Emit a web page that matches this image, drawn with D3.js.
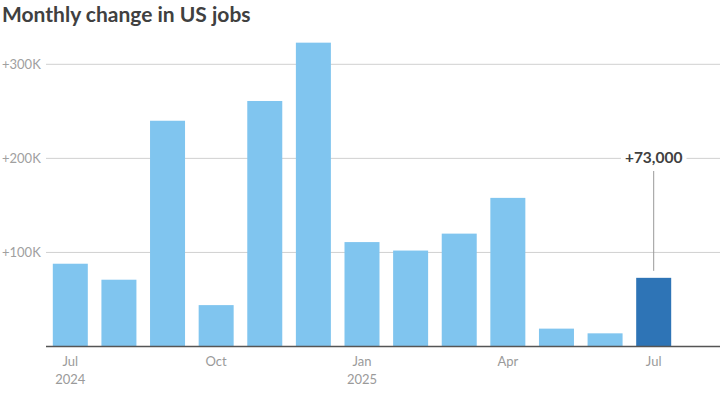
<!DOCTYPE html>
<html><head><meta charset="utf-8">
<script src="https://cdn.jsdelivr.net/npm/d3@7"></script>
<style>body{margin:0;background:#fff;}svg{display:block;font-family:Lato,"Open Sans",sans-serif;}</style>
</head><body><svg id="c" width="720" height="402"></svg>
<script>
const months = ["2024-07","2024-08","2024-09","2024-10","2024-11","2024-12","2025-01","2025-02","2025-03","2025-04","2025-05","2025-06","2025-07"];
const jobs = [88, 71, 240, 44, 261, 323, 111, 102, 120, 158, 19, 14, 73];
const yTicks = [100, 200, 300];
const yTickLabels = ["+100K","+200K","+300K"];
const xTickMonths = ["2024-07","2024-10","2025-01","2025-04","2025-07"];
const xTickLine1 = ["Jul","Oct","Jan","Apr","Jul"];
const xTickLine2 = ["2024","","2025","",""];
const highlight = "2025-07";
const annotationText = "+73,000";

const svg = d3.select("#c");
const x = d3.scaleBand().domain(months).range([46, 678]).paddingInner(0.28).paddingOuter(0.14);
const y = d3.scaleLinear().domain([0, 300]).range([346.5, 64.3]);

svg.append("text").attr("x", 2).attr("y", 22).text("Monthly change in US jobs")
  .attr("font-size", 21).attr("font-weight", 700).attr("fill", "#404040");

const g = svg.append("g");
yTicks.forEach((t, i) => {
  g.append("line").attr("x1", 46).attr("x2", 720).attr("y1", y(t)).attr("y2", y(t))
    .attr("stroke", "#d0d0d0").attr("stroke-width", 1);
  g.append("text").attr("x", 2).attr("y", y(t)).attr("dy", "0.35em").text(yTickLabels[i])
    .attr("font-size", 13).attr("fill", "#a0a0a0");
});

g.selectAll("rect.bar").data(months).join("rect").attr("class", "bar")
  .attr("x", d => x(d)).attr("width", x.bandwidth())
  .attr("y", (d, i) => y(jobs[i])).attr("height", (d, i) => y(0) - y(jobs[i]))
  .attr("fill", d => d === highlight ? "#2e74b6" : "#80c5ef");

g.append("line").attr("x1", 46).attr("x2", 720).attr("y1", y(0)).attr("y2", y(0))
  .attr("stroke", "#555").attr("stroke-width", 1.5);

xTickMonths.forEach((m, i) => {
  const cx = x(m) + x.bandwidth() / 2;
  g.append("text").attr("x", cx).attr("y", 366).attr("text-anchor", "middle").text(xTickLine1[i])
    .attr("font-size", 13).attr("fill", "#9a9a9a");
  if (xTickLine2[i]) g.append("text").attr("x", cx).attr("y", 384).attr("text-anchor", "middle").text(xTickLine2[i])
    .attr("font-size", 13).attr("fill", "#9a9a9a");
});

const hi = months.indexOf(highlight);
const hx = x(highlight) + x.bandwidth() / 2;
g.append("line").attr("x1", hx).attr("x2", hx).attr("y1", 171).attr("y2", y(jobs[hi]) - 7)
  .attr("stroke", "#999").attr("stroke-width", 1);
const at = g.append("text").attr("x", hx).attr("y", 163).attr("text-anchor", "middle").text(annotationText)
  .attr("font-size", 15.5).attr("font-weight", 700).attr("fill", "#404040");
const bb = at.node().getBBox();
g.insert("rect", () => at.node()).attr("x", bb.x - 4).attr("y", bb.y).attr("width", bb.width + 8).attr("height", bb.height).attr("fill", "#fff");
</script></body></html>
